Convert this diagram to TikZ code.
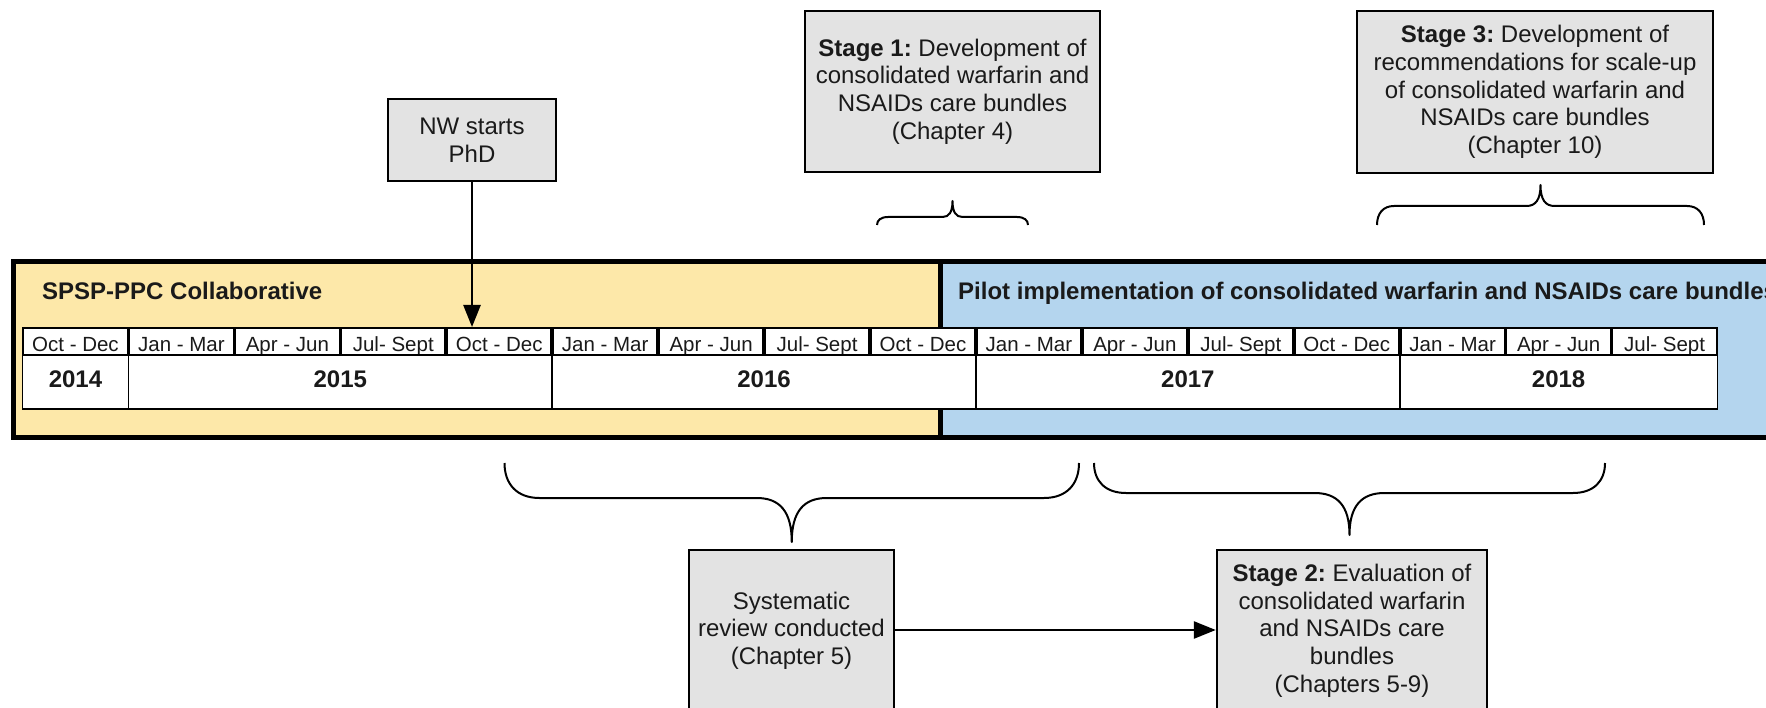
\documentclass[tikz,border=0pt]{standalone}
\usepackage{fontspec}
\setmainfont{Liberation Sans}
\usetikzlibrary{arrows.meta}

\definecolor{collabfill}{HTML}{FDE8A9}
\definecolor{pilotfill}{HTML}{B4D5EE}
\definecolor{notefill}{HTML}{E3E3E3}
\definecolor{ink}{HTML}{1A1A1A}

% curly brace: #1 left x, #2 right x, #3 y of the ends, #4 y of the bar,
% #5 y of the tip, #6 corner run at the ends, #7 half width of the tip
\newcommand{\tlbrace}[7]{%
  \pgfmathsetmacro{\bxm}{(#1+#2)/2}%
  \draw[bracestyle] (#1,#3)
    .. controls (#1,{#3+0.6*(#4-#3)}) and ({#1+0.35*#6},#4) .. ({#1+#6},#4)
    -- ({\bxm-#7},#4)
    .. controls ({\bxm-0.35*#7},#4) and (\bxm,{#4+0.3*(#5-#4)}) .. (\bxm,#5)
    .. controls (\bxm,{#4+0.3*(#5-#4)}) and ({\bxm+0.35*#7},#4) .. ({\bxm+#7},#4)
    -- ({#2-#6},#4)
    .. controls ({#2-0.35*#6},#4) and (#2,{#3+0.6*(#4-#3)}) .. (#2,#3);%
}

\tikzset{
  note/.style={draw=black, line width=2.4pt, fill=notefill, align=center,
    inner sep=0pt, text=ink, font=\fontsize{24}{27.7}\selectfont},
  band/.style={draw=black, line width=5pt, inner sep=0pt, anchor=north west,
    minimum height=176pt},
  qcell/.style={draw=black, line width=2pt, fill=white, inner sep=0pt,
    minimum width=104.4pt, minimum height=27pt, text height=21pt, text depth=0pt,
    text=ink, font=\fontsize{20.5}{24}\selectfont},
  yearcell/.style={draw=black, line width=1.6pt, fill=white, inner sep=0pt,
    minimum height=54pt, text height=16pt, text depth=6pt, text=ink,
    font=\bfseries\fontsize{24}{28}\selectfont},
  bandtitle/.style={anchor=base west, inner sep=0pt, text=ink,
    font=\bfseries\fontsize{24}{28}\selectfont},
  conn/.style={draw=black, line width=2.5pt, -{Triangle[length=22pt,width=17pt]}},
  bracestyle/.style={draw=black, line width=2pt, line join=round}
}

\begin{document}
\frenchspacing
\begin{tikzpicture}[x=1pt, y=-1pt]
\useasboundingbox (0,0) rectangle (1766,708);
\clip (0,0) rectangle (1766,708);

\def\qx{22.5}
\def\qw{105.94}

% the two project phases
\node[band, fill=pilotfill, minimum width=900pt] (pilot) at (938,259) {};
\node[band, fill=collabfill, minimum width=927pt] (collab) at (11,259) {};
\node[bandtitle] (collabtitle) at (42,300) {SPSP-PPC Collaborative};
\node[bandtitle] (pilottitle) at (958,300)
  {Pilot implementation of consolidated warfarin and NSAIDs care bundles};

% quarters
\foreach \lab [count=\i from 0] in {Oct - Dec, Jan - Mar, Apr - Jun, Jul- Sept,
    Oct - Dec, Jan - Mar, Apr - Jun, Jul- Sept, Oct - Dec, Jan - Mar, Apr - Jun,
    Jul- Sept, Oct - Dec, Jan - Mar, Apr - Jun, Jul- Sept}
  \node[qcell] (q\i) at ({\qx+(\i+0.5)*\qw},341.5) {\lab};

% years
\foreach \yr/\a/\n in {2014/0/1, 2015/1/4, 2016/5/4, 2017/9/4, 2018/13/3}
  \node[yearcell, minimum width={\n*\qw pt}] (yr\yr)
    at ({\qx+(\a+\n/2)*\qw},382) {\yr};

% notes
\node[note, minimum width=168pt, minimum height=82pt] (nw) at (472,140)
  {NW starts\\PhD};
\node[note, minimum width=295pt, minimum height=161pt] (stage1) at (952.5,91.5)
  {\textbf{Stage 1:} Development of\\consolidated warfarin and\\NSAIDs care bundles\\(Chapter 4)};
\node[note, minimum width=356pt, minimum height=162pt] (stage3) at (1535,92)
  {\textbf{Stage 3:} Development of\\recommendations for scale-up\\of consolidated warfarin and\\NSAIDs care bundles\\(Chapter 10)};
\node[note, minimum width=205pt, minimum height=161pt, anchor=north] (review) at (791.5,549)
  {Systematic\\review conducted\\(Chapter 5)};
\node[note, minimum width=270pt, minimum height=161pt, anchor=north] (stage2) at (1352,549)
  {\textbf{Stage 2:} Evaluation of\\consolidated warfarin\\and NSAIDs care\\bundles\\(Chapters 5-9)};

% braces spanning the periods
\tlbrace{877}{1028}{225}{217}{201}{11}{10}
\tlbrace{1377}{1704}{225}{206}{185}{17}{14}
\tlbrace{504.5}{1079}{463}{498}{542}{35}{35}
\tlbrace{1094}{1605}{463}{493}{535}{32}{35}

% connectors
\draw[conn] (nw.south) -- (nw.south |- q4.north);
\draw[conn] (review.east |- 0,630) -- (stage2.west |- 0,630);
\end{tikzpicture}
\end{document}
